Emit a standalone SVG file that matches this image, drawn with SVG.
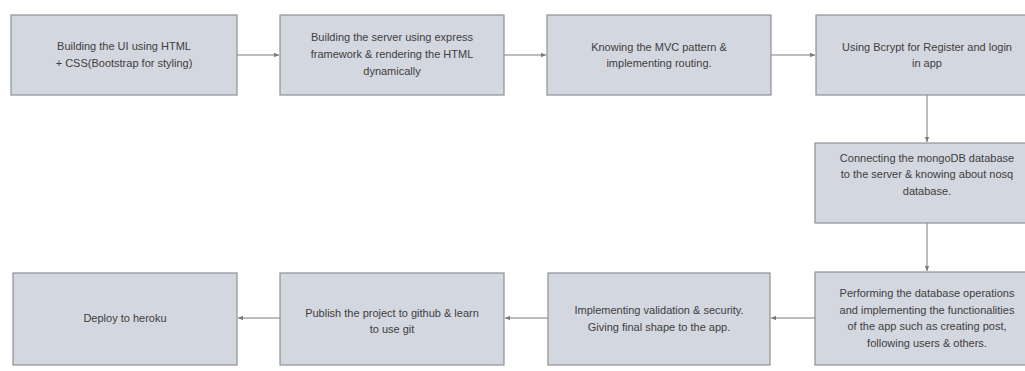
<svg xmlns="http://www.w3.org/2000/svg" width="1025" height="371" viewBox="0 0 1025 371">
<style>
.box{fill:#d3d7df;stroke:#8e9096;stroke-width:1.2}
.lbl{font-family:"Liberation Sans",Arial,sans-serif;font-size:11px;fill:#404040;text-anchor:middle}
.con{stroke:#7a7a7a;stroke-width:1;fill:none;marker-end:url(#ah)}
</style>
<defs>
<marker id="ah" markerWidth="6" markerHeight="6" refX="5" refY="3" orient="auto" markerUnits="userSpaceOnUse">
<path d="M0,0.8 L5,3 L0,5.2 Z" fill="#7a7a7a"/>
</marker>
</defs>
<rect width="1025" height="371" fill="#ffffff"/>
<g id="connectors">
<line class="con" x1="237" y1="55" x2="279" y2="55"/>
<line class="con" x1="504" y1="55" x2="546" y2="55"/>
<line class="con" x1="771" y1="55" x2="815" y2="55"/>
<line class="con" x1="927" y1="95" x2="927" y2="142"/>
<line class="con" x1="927" y1="223" x2="927" y2="271"/>
<line class="con" x1="815" y1="318" x2="771" y2="318"/>
<line class="con" x1="548" y1="318" x2="505" y2="318"/>
<line class="con" x1="280" y1="318" x2="238" y2="318"/>
</g>
<g id="n1"><rect class="box" x="11" y="15" width="226" height="80"/>
<text class="lbl" x="124" y="50">Building the UI using HTML</text>
<text class="lbl" x="124" y="67">+ CSS(Bootstrap for styling)</text></g>
<g id="n2"><rect class="box" x="280" y="15" width="224" height="80"/>
<text class="lbl" x="392" y="41">Building the server using express</text>
<text class="lbl" x="392" y="58">framework &amp; rendering the HTML</text>
<text class="lbl" x="392" y="75">dynamically</text></g>
<g id="n3"><rect class="box" x="547" y="15" width="224" height="80"/>
<text class="lbl" x="659" y="51">Knowing the MVC pattern &amp;</text>
<text class="lbl" x="659" y="67">implementing routing.</text></g>
<g id="n4"><rect class="box" x="816" y="15" width="222" height="80"/>
<text class="lbl" x="927" y="51">Using Bcrypt for Register and login</text>
<text class="lbl" x="927" y="67">in app</text></g>
<g id="n5"><rect class="box" x="815" y="143" width="223" height="80"/>
<text class="lbl" x="927" y="162">Connecting the mongoDB database</text>
<text class="lbl" x="927" y="178">to the server &amp; knowing about nosq</text>
<text class="lbl" x="927" y="195">database.</text></g>
<g id="n6"><rect class="box" x="815" y="272" width="223" height="93"/>
<text class="lbl" x="927" y="297">Performing the database operations</text>
<text class="lbl" x="927" y="314">and implementing the functionalities</text>
<text class="lbl" x="927" y="330">of the app such as creating post,</text>
<text class="lbl" x="927" y="347">following users &amp; others.</text></g>
<g id="n7"><rect class="box" x="548" y="273" width="222" height="92"/>
<text class="lbl" x="659" y="314">Implementing validation &amp; security.</text>
<text class="lbl" x="659" y="331">Giving final shape to the app.</text></g>
<g id="n8"><rect class="box" x="280" y="273" width="224" height="92"/>
<text class="lbl" x="392" y="317">Publish the project to github &amp; learn</text>
<text class="lbl" x="392" y="333">to use git</text></g>
<g id="n9"><rect class="box" x="13" y="273" width="224" height="92"/>
<text class="lbl" x="125" y="322">Deploy to heroku</text></g>
</svg>
